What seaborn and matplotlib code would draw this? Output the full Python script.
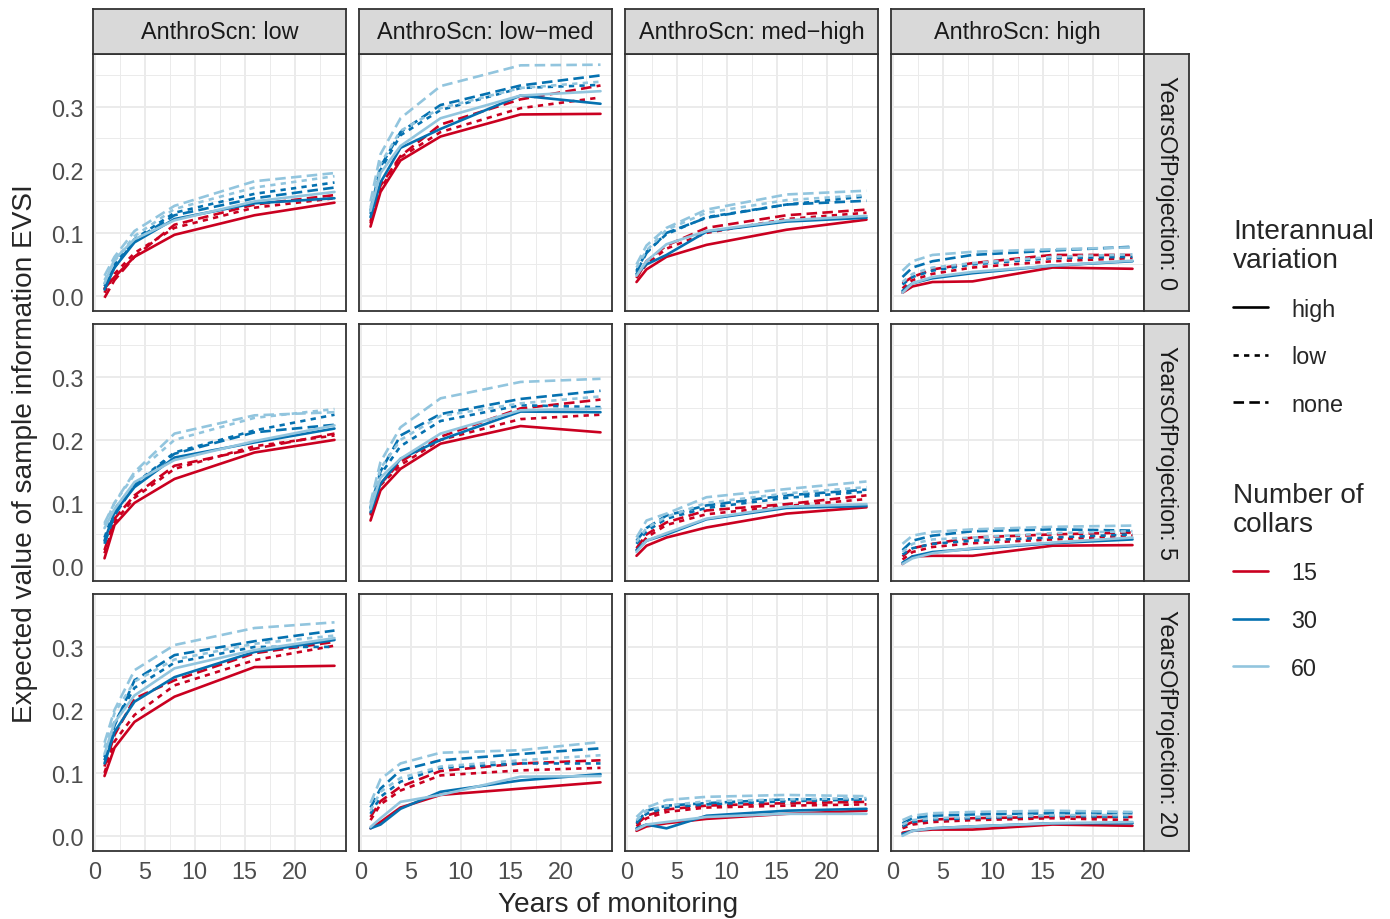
import matplotlib
matplotlib.use("Agg")
import matplotlib.pyplot as plt
from matplotlib.lines import Line2D
from matplotlib.ticker import FixedLocator, FormatStrFormatter
import seaborn as sns
import pandas as pd

# ---- data ----
years = [1, 2, 4, 8, 16, 24]
anthro = ["low", "low\u2212med", "med\u2212high", "high"]
projections = [0, 5, 20]
collars = [15, 30, 60]
variation = ["high", "low", "none"]

# each panel: rows = 15 high/low/none, 30 high/low/none, 60 high/low/none
evsi_low_0 = [
    [0.012, 0.030, 0.062, 0.097, 0.128, 0.148],
    [0.005, 0.035, 0.068, 0.108, 0.140, 0.155],
    [-0.003, 0.025, 0.062, 0.113, 0.145, 0.160],
    [0.010, 0.045, 0.085, 0.122, 0.147, 0.155],
    [0.018, 0.050, 0.090, 0.132, 0.162, 0.180],
    [0.015, 0.045, 0.088, 0.128, 0.155, 0.172],
    [0.020, 0.058, 0.090, 0.120, 0.150, 0.165],
    [0.025, 0.055, 0.095, 0.138, 0.172, 0.190],
    [0.032, 0.062, 0.103, 0.143, 0.182, 0.195],
]
evsi_lowmed_0 = [
    [0.110, 0.165, 0.215, 0.253, 0.288, 0.289],
    [0.115, 0.170, 0.220, 0.260, 0.298, 0.315],
    [0.118, 0.175, 0.222, 0.272, 0.312, 0.334],
    [0.125, 0.180, 0.235, 0.265, 0.318, 0.305],
    [0.130, 0.200, 0.255, 0.295, 0.330, 0.335],
    [0.135, 0.205, 0.260, 0.303, 0.334, 0.350],
    [0.135, 0.195, 0.238, 0.282, 0.318, 0.325],
    [0.140, 0.210, 0.262, 0.298, 0.330, 0.340],
    [0.150, 0.225, 0.282, 0.333, 0.366, 0.367],
]
evsi_medhigh_0 = [
    [0.022, 0.042, 0.062, 0.081, 0.105, 0.121],
    [0.030, 0.050, 0.075, 0.100, 0.122, 0.132],
    [0.028, 0.055, 0.080, 0.108, 0.128, 0.137],
    [0.035, 0.050, 0.065, 0.102, 0.118, 0.124],
    [0.040, 0.070, 0.098, 0.125, 0.145, 0.158],
    [0.038, 0.068, 0.100, 0.124, 0.145, 0.151],
    [0.032, 0.055, 0.082, 0.103, 0.120, 0.127],
    [0.045, 0.072, 0.105, 0.132, 0.152, 0.160],
    [0.050, 0.080, 0.108, 0.137, 0.161, 0.167],
]
evsi_high_0 = [
    [0.005, 0.015, 0.022, 0.023, 0.045, 0.043],
    [0.012, 0.025, 0.035, 0.045, 0.055, 0.060],
    [0.020, 0.030, 0.042, 0.052, 0.065, 0.065],
    [0.008, 0.020, 0.028, 0.036, 0.048, 0.055],
    [0.018, 0.030, 0.040, 0.050, 0.060, 0.062],
    [0.030, 0.045, 0.055, 0.065, 0.072, 0.078],
    [0.005, 0.020, 0.030, 0.038, 0.048, 0.056],
    [0.022, 0.035, 0.045, 0.052, 0.062, 0.066],
    [0.040, 0.055, 0.065, 0.070, 0.074, 0.077],
]
evsi_low_5 = [
    [0.012, 0.065, 0.100, 0.138, 0.180, 0.200],
    [0.020, 0.070, 0.108, 0.154, 0.190, 0.207],
    [0.025, 0.075, 0.112, 0.159, 0.186, 0.210],
    [0.040, 0.085, 0.125, 0.172, 0.196, 0.218],
    [0.045, 0.090, 0.130, 0.180, 0.215, 0.240],
    [0.035, 0.080, 0.128, 0.178, 0.212, 0.224],
    [0.060, 0.090, 0.133, 0.168, 0.198, 0.223],
    [0.065, 0.100, 0.145, 0.200, 0.235, 0.249],
    [0.068, 0.100, 0.149, 0.210, 0.239, 0.244],
]
evsi_lowmed_5 = [
    [0.072, 0.120, 0.154, 0.194, 0.222, 0.212],
    [0.080, 0.128, 0.160, 0.200, 0.233, 0.240],
    [0.082, 0.130, 0.165, 0.205, 0.250, 0.264],
    [0.085, 0.130, 0.170, 0.200, 0.245, 0.244],
    [0.090, 0.145, 0.190, 0.230, 0.255, 0.252],
    [0.092, 0.150, 0.207, 0.241, 0.265, 0.278],
    [0.090, 0.140, 0.170, 0.210, 0.247, 0.250],
    [0.095, 0.155, 0.200, 0.238, 0.258, 0.269],
    [0.100, 0.165, 0.220, 0.266, 0.292, 0.297],
]
evsi_medhigh_5 = [
    [0.016, 0.032, 0.045, 0.061, 0.083, 0.093],
    [0.025, 0.045, 0.065, 0.082, 0.095, 0.106],
    [0.028, 0.050, 0.069, 0.088, 0.098, 0.112],
    [0.025, 0.040, 0.050, 0.074, 0.092, 0.095],
    [0.035, 0.055, 0.075, 0.092, 0.108, 0.118],
    [0.040, 0.060, 0.080, 0.096, 0.112, 0.121],
    [0.022, 0.040, 0.052, 0.075, 0.094, 0.098],
    [0.038, 0.060, 0.078, 0.100, 0.115, 0.125],
    [0.045, 0.072, 0.083, 0.109, 0.122, 0.134],
]
evsi_high_5 = [
    [0.003, 0.015, 0.016, 0.016, 0.032, 0.033],
    [0.010, 0.022, 0.030, 0.036, 0.042, 0.048],
    [0.015, 0.028, 0.035, 0.045, 0.050, 0.053],
    [0.005, 0.015, 0.022, 0.027, 0.036, 0.042],
    [0.018, 0.028, 0.035, 0.040, 0.045, 0.050],
    [0.025, 0.040, 0.048, 0.055, 0.058, 0.056],
    [0.003, 0.012, 0.020, 0.028, 0.037, 0.045],
    [0.022, 0.035, 0.042, 0.045, 0.052, 0.055],
    [0.035, 0.048, 0.054, 0.058, 0.062, 0.064],
]
evsi_low_20 = [
    [0.095, 0.140, 0.181, 0.221, 0.268, 0.270],
    [0.100, 0.150, 0.192, 0.239, 0.279, 0.302],
    [0.110, 0.160, 0.218, 0.247, 0.290, 0.308],
    [0.115, 0.165, 0.213, 0.252, 0.292, 0.311],
    [0.125, 0.180, 0.235, 0.275, 0.300, 0.300],
    [0.120, 0.175, 0.247, 0.287, 0.309, 0.326],
    [0.130, 0.180, 0.223, 0.266, 0.295, 0.314],
    [0.140, 0.195, 0.245, 0.280, 0.305, 0.318],
    [0.148, 0.200, 0.263, 0.303, 0.330, 0.339],
]
evsi_lowmed_20 = [
    [0.012, 0.022, 0.045, 0.065, 0.075, 0.085],
    [0.025, 0.050, 0.072, 0.096, 0.104, 0.108],
    [0.030, 0.055, 0.078, 0.103, 0.115, 0.120],
    [0.012, 0.018, 0.043, 0.070, 0.088, 0.098],
    [0.035, 0.062, 0.086, 0.108, 0.115, 0.115],
    [0.045, 0.075, 0.104, 0.120, 0.130, 0.139],
    [0.014, 0.028, 0.054, 0.065, 0.094, 0.095],
    [0.040, 0.070, 0.092, 0.110, 0.120, 0.128],
    [0.052, 0.090, 0.115, 0.132, 0.136, 0.149],
]
evsi_medhigh_20 = [
    [0.008, 0.015, 0.020, 0.027, 0.035, 0.040],
    [0.015, 0.028, 0.038, 0.045, 0.048, 0.050],
    [0.018, 0.032, 0.042, 0.048, 0.052, 0.054],
    [0.012, 0.018, 0.012, 0.032, 0.040, 0.043],
    [0.022, 0.035, 0.045, 0.050, 0.055, 0.058],
    [0.020, 0.040, 0.048, 0.052, 0.058, 0.058],
    [0.010, 0.018, 0.022, 0.030, 0.035, 0.035],
    [0.025, 0.040, 0.048, 0.055, 0.058, 0.060],
    [0.030, 0.045, 0.057, 0.062, 0.065, 0.063],
]
evsi_high_20 = [
    [0.005, 0.008, 0.010, 0.010, 0.018, 0.016],
    [0.012, 0.018, 0.022, 0.025, 0.028, 0.025],
    [0.015, 0.022, 0.026, 0.028, 0.030, 0.030],
    [0.003, 0.008, 0.012, 0.015, 0.020, 0.020],
    [0.015, 0.022, 0.026, 0.028, 0.032, 0.030],
    [0.020, 0.028, 0.032, 0.034, 0.036, 0.036],
    [0.000, 0.008, 0.012, 0.015, 0.020, 0.022],
    [0.018, 0.025, 0.028, 0.030, 0.033, 0.033],
    [0.025, 0.032, 0.036, 0.038, 0.040, 0.038],
]

panels = [
    [evsi_low_0, evsi_lowmed_0, evsi_medhigh_0, evsi_high_0],
    [evsi_low_5, evsi_lowmed_5, evsi_medhigh_5, evsi_high_5],
    [evsi_low_20, evsi_lowmed_20, evsi_medhigh_20, evsi_high_20],
]

# long table
records = []
for r, proj in enumerate(projections):
    for c, scn in enumerate(anthro):
        for k, series in enumerate(panels[r][c]):
            for yr, val in zip(years, series):
                records.append({"anthro": scn, "proj": proj, "collars": collars[k // 3],
                                "variation": variation[k % 3], "years": yr, "evsi": val})
df = pd.DataFrame(records)

# ---- styling ----
sns.set_style("white")
plt.rcParams["font.family"] = ["Liberation Sans", "DejaVu Sans"]

palette = {15: "#CA0020", 30: "#0571B0", 60: "#92C5DE"}
dash_map = {"high": "", "low": (2, 2), "none": (4, 2)}
line_w = 1.9
grey20 = "#333333"
small = 16.8
big = 20.2

W, H = 1390, 920
fig = plt.figure(figsize=(13.9, 9.2), dpi=100)

lefts = [93, 359, 625, 891]
tops = [55, 325, 595]
pw, ph = 253, 257
strip = 45

for r, proj in enumerate(projections):
    for c, scn in enumerate(anthro):
        ax = fig.add_axes([lefts[c] / W, 1 - (tops[r] + ph) / H, pw / W, ph / H])
        sub = df[(df["anthro"] == scn) & (df["proj"] == proj)]
        sns.lineplot(data=sub, x="years", y="evsi", hue="collars", style="variation",
                     hue_order=collars, style_order=variation, palette=palette,
                     dashes=dash_map, linewidth=line_w, errorbar=None, legend=False, ax=ax)
        ax.set_xlim(-0.15, 25.15)
        ax.set_ylim(-0.024, 0.384)
        ax.xaxis.set_major_locator(FixedLocator([0, 5, 10, 15, 20]))
        ax.xaxis.set_minor_locator(FixedLocator([2.5, 7.5, 12.5, 17.5, 22.5]))
        ax.yaxis.set_major_locator(FixedLocator([0, 0.1, 0.2, 0.3]))
        ax.yaxis.set_minor_locator(FixedLocator([0.05, 0.15, 0.25, 0.35]))
        ax.yaxis.set_major_formatter(FormatStrFormatter("%.1f"))
        ax.grid(which="major", color="#EBEBEB", linewidth=1.4)
        ax.grid(which="minor", color="#EBEBEB", linewidth=0.7)
        ax.set_axisbelow(True)
        for s in ax.spines.values():
            s.set_color(grey20)
            s.set_linewidth(1.3)
        ax.set_xlabel("")
        ax.set_ylabel("")
        ax.tick_params(which="minor", length=0)
        ax.tick_params(axis="both", which="major", length=4, width=1.1, color=grey20,
                       labelsize=small, labelcolor="#4D4D4D", pad=2.5)
        if c != 0:
            ax.tick_params(axis="y", length=0, labelleft=False)
        if r != 2:
            ax.tick_params(axis="x", length=0, labelbottom=False)

        if r == 0:
            sax = fig.add_axes([lefts[c] / W, 1 - tops[0] / H, pw / W, strip / H])
            sax.set_facecolor("#D9D9D9")
            sax.set_xticks([])
            sax.set_yticks([])
            for s in sax.spines.values():
                s.set_color(grey20)
                s.set_linewidth(1.3)
            sax.text(0.5, 0.5, f"AnthroScn: {scn}", ha="center", va="center",
                     fontsize=small, color="#1A1A1A", transform=sax.transAxes)
        if c == 3:
            sax = fig.add_axes([(lefts[3] + pw) / W, 1 - (tops[r] + ph) / H, strip / W, ph / H])
            sax.set_facecolor("#D9D9D9")
            sax.set_xticks([])
            sax.set_yticks([])
            for s in sax.spines.values():
                s.set_color(grey20)
                s.set_linewidth(1.3)
            sax.text(0.5, 0.5, f"YearsOfProjection: {proj}", ha="center", va="center",
                     rotation=270, fontsize=small, color="#1A1A1A", transform=sax.transAxes)

# axis titles
fig.text((lefts[0] + lefts[3] + pw) / 2 / W, 1 - 905 / H, "Years of monitoring",
         ha="center", va="center", fontsize=big)
fig.text(25 / W, 1 - (tops[0] + tops[2] + ph) / 2 / H,
         "Expected value of sample information EVSI",
         ha="center", va="center", rotation=90, fontsize=big)

# legends
var_handles = [Line2D([], [], color="black", linewidth=line_w, linestyle="-"),
               Line2D([], [], color="black", linewidth=line_w, linestyle=(0, (2, 2))),
               Line2D([], [], color="black", linewidth=line_w, linestyle=(0, (4, 2)))]
leg1 = fig.legend(var_handles, variation, title="Interannual\nvariation", loc="upper left",
                  bbox_to_anchor=(1212 / W, 1 - 198 / H), frameon=False, fontsize=small,
                  title_fontsize=big, handlelength=1.5, handletextpad=1.0,
                  labelspacing=1.05, alignment="left")
leg1.get_title().set_linespacing(1.15)

col_handles = [Line2D([], [], color=palette[n], linewidth=line_w) for n in collars]
leg2 = fig.legend(col_handles, [str(n) for n in collars], title="Number of\ncollars",
                  loc="upper left", bbox_to_anchor=(1212 / W, 1 - 462 / H), frameon=False,
                  fontsize=small, title_fontsize=big, handlelength=1.5, handletextpad=1.0,
                  labelspacing=1.05, alignment="left")
leg2.get_title().set_linespacing(1.15)

fig.savefig("out.png", dpi=100)
